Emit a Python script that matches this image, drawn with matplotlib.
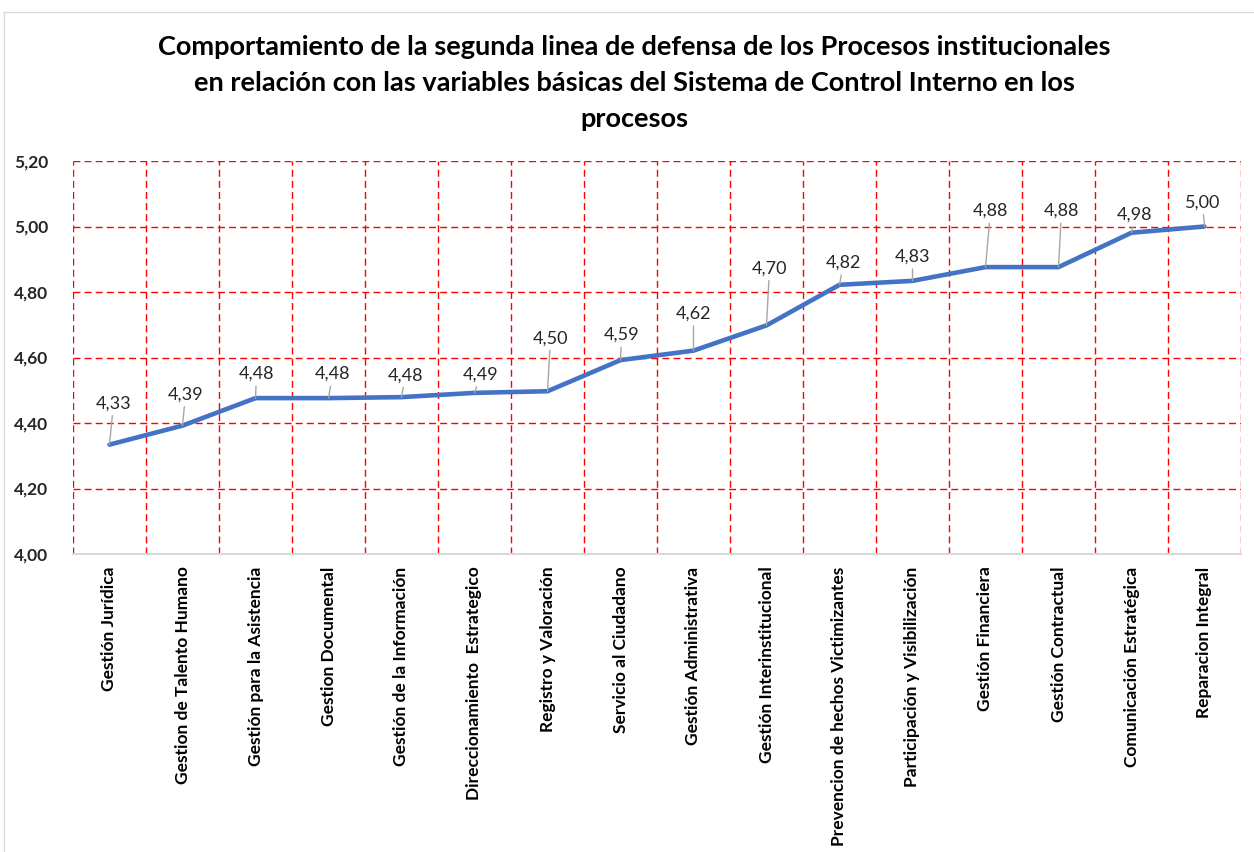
import matplotlib.pyplot as plt
from matplotlib.ticker import FixedLocator, FuncFormatter
from matplotlib.lines import Line2D

procesos = ['Gestión Jurídica', 'Gestion de Talento Humano', 'Gestión para la Asistencia',
            'Gestion Documental', 'Gestión de la Información', 'Direccionamiento  Estrategico',
            'Registro y Valoración', 'Servicio al Ciudadano', 'Gestión Administrativa',
            'Gestión Interinstitucional', 'Prevencion de hechos Victimizantes',
            'Participación y Visibilización', 'Gestión Financiera', 'Gestión Contractual',
            'Comunicación Estratégica', 'Reparacion Integral']
valores = [4.334, 4.392, 4.476, 4.476, 4.479, 4.492, 4.497, 4.592, 4.621, 4.698,
           4.822, 4.834, 4.876, 4.876, 4.981, 5.00]
y_ticks = [4.00, 4.20, 4.40, 4.60, 4.80, 5.00, 5.20]

# label offsets (pixels) from each point
label_dx = [4, 3, 1, 4, 4, 6, 3, 1, 0, 3, 4, 0, 5, 3, 3, -2]
label_dy = [41, 31, 24, 24, 22, 18, 53, 25, 37, 57, 22, 24, 56, 56, 18, 24]

plt.rcParams['font.family'] = ['Lato', 'DejaVu Sans']

fig = plt.figure(figsize=(12.54, 8.52), dpi=100)
ax = fig.add_axes([73 / 1254, 1 - 554 / 852, 1168 / 1254, 393 / 852])

x = list(range(len(procesos)))
ax.plot(x, valores, color='#4472C4', linewidth=3.3, solid_capstyle='round', zorder=3)

for i, v in enumerate(valores):
    ax.annotate(f'{v:.2f}'.replace('.', ','), xy=(i, v),
                xytext=(label_dx[i], label_dy[i]), textcoords='offset pixels',
                ha='center', va='center', fontsize=13, color='#262626',
                arrowprops=dict(arrowstyle='-', color='#A6A6A6', lw=1,
                                shrinkA=1, shrinkB=0), zorder=4)

ax.set_xlim(-0.5, len(procesos) - 0.5)
ax.set_ylim(4.0, 5.2)
ax.set_yticks(y_ticks)
ax.yaxis.set_major_formatter(FuncFormatter(lambda v, p: f'{v:.2f}'.replace('.', ',')))
ax.set_xticks(x)
ax.set_xticklabels(procesos, rotation=90, ha='center', va='top',
                   fontsize=12.5, fontweight='bold', color='black')
ax.xaxis.set_minor_locator(FixedLocator([i - 0.5 for i in range(len(procesos) + 1)]))

ax.tick_params(axis='x', which='major', length=0, pad=9)
ax.tick_params(axis='x', which='minor', length=0)
ax.tick_params(axis='y', length=0, pad=18, labelsize=12.5)
for lab in ax.get_yticklabels():
    lab.set_fontweight('bold')
    lab.set_color('#262626')

ax.grid(axis='y', which='major', color='#FF0000', linestyle=(0, (5, 3)), linewidth=1)
ax.grid(axis='x', which='minor', color='#FF0000', linestyle=(0, (5, 3)), linewidth=1)
ax.grid(axis='x', which='major', visible=False)
ax.set_axisbelow(True)

for s in ['top', 'left', 'right']:
    ax.spines[s].set_visible(False)
ax.spines['bottom'].set_color('#D9D9D9')
ax.spines['bottom'].set_linewidth(1.5)

fig.text(634 / 1254, 1 - 83 / 852,
         'Comportamiento de la segunda linea de defensa de los Procesos institucionales\n'
         'en relación con las variables básicas del Sistema de Control Interno en los\n'
         'procesos', ha='center', va='center', fontsize=19.5, fontweight='bold',
         linespacing=1.58, color='black')

# chart area border
fig.add_artist(Line2D([4 / 1254, 1.0], [1 - 12 / 852] * 2, color='#D9D9D9', lw=1))
fig.add_artist(Line2D([4 / 1254] * 2, [0, 1 - 12 / 852], color='#D9D9D9', lw=1))

fig.savefig('out.png', dpi=100)
